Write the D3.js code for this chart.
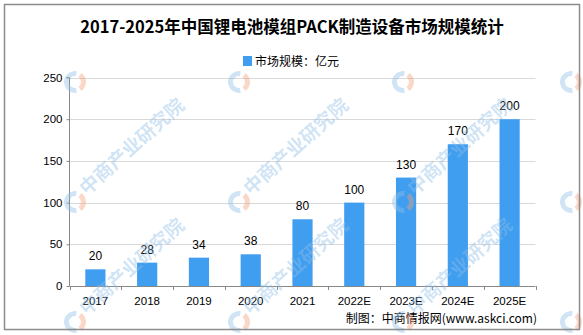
<!DOCTYPE html>
<html><head><meta charset="utf-8">
<script src="https://cdn.jsdelivr.net/npm/d3@7"></script>
<style>body{margin:0;background:#fff}svg{display:block}</style>
</head><body>
<script>
const categories = ["2017","2018","2019","2020","2021","2022E","2023E","2024E","2025E"];
const values = [20,28,34,38,80,100,130,170,200];
const yTicks = [0,50,100,150,200,250];
const title = "2017-2025年中国锂电池模组PACK制造设备市场规模统计";
const legendLabel = "市场规模：亿元";
const source = "制图：中商情报网(www.askci.com)";
const watermark = "中商产业研究院";

const W = 583, H = 335;
const svg = d3.select("body").append("svg").attr("width", W).attr("height", H);
svg.append("rect").attr("width", W).attr("height", H).attr("fill", "#fff");

const x = d3.scaleBand().domain(categories).range([69.5, 535.5]).padding(0);
const y = d3.scaleLinear().domain([0,250]).range([286, 77.5]);
const barW = x.bandwidth()*0.39;
const sans = "'Liberation Sans', Arial, sans-serif";

// grid
svg.append("g").selectAll("line").data(yTicks.filter(d=>d>0)).join("line")
  .attr("x1", 69.5).attr("x2", 535.5)
  .attr("y1", d=>Math.round(y(d))+0.5).attr("y2", d=>Math.round(y(d))+0.5)
  .attr("stroke","#d9d9d9");

// bars
svg.append("g").selectAll("rect").data(values).join("rect")
  .attr("x",(d,i)=>x(categories[i]) + (x.bandwidth()-barW)/2)
  .attr("width", barW)
  .attr("y", d=>y(d)).attr("height", d=>y(0)-y(d))
  .attr("fill","#409ef0");

// value labels
svg.append("g").selectAll("text").data(values).join("text")
  .attr("x",(d,i)=>x(categories[i]) + x.bandwidth()/2)
  .attr("y", d=>y(d)-9)
  .attr("text-anchor","middle").attr("font-family",sans).attr("font-size",12)
  .attr("fill","#000").text(d=>d);

// y axis
const yAxis = d3.axisLeft(y).tickValues(yTicks).tickSize(3).tickPadding(4);
const gy = svg.append("g").attr("transform","translate(69.5,0)").call(yAxis);
gy.select(".domain").attr("stroke","#888").attr("d","M-3,77.5H0V286");
gy.selectAll(".tick line").attr("stroke","#888");
gy.selectAll("text").attr("font-family",sans).attr("font-size",11.5).attr("fill","#000");

// x axis
const gx = svg.append("g").attr("transform","translate(0,286)");
gx.append("line").attr("x1",69.5).attr("x2",535.5).attr("y1",0.5).attr("y2",0.5).attr("stroke","#888");
const bounds = categories.map(c=>x(c)).concat([x(categories[categories.length-1])+x.bandwidth()]);
gx.selectAll("line.t").data(bounds).join("line").attr("class","t")
  .attr("x1",d=>Math.round(d)+0.5).attr("x2",d=>Math.round(d)+0.5).attr("y1",0).attr("y2",4).attr("stroke","#888");
gx.selectAll("text").data(categories).join("text")
  .attr("x",d=>x(d)+x.bandwidth()/2).attr("y",19)
  .attr("text-anchor","middle").attr("font-family",sans).attr("font-size",11.5).attr("fill","#000").text(d=>d);

// title
svg.append("text").attr("x",292).attr("y",33).attr("text-anchor","middle")
  .attr("font-family","'Noto Sans CJK SC', sans-serif").attr("font-weight","bold")
  .attr("font-size",16.5).attr("fill","#000").text(title);

// legend
svg.append("rect").attr("x",243).attr("y",56).attr("width",9).attr("height",10).attr("fill","#409ef0");
svg.append("text").attr("x",255).attr("y",66).attr("font-family","'Noto Sans CJK SC', sans-serif")
  .attr("font-size",12).attr("fill","#000").text(legendLabel);

// source
svg.append("text").attr("x",537).attr("y",323).attr("text-anchor","end")
  .attr("font-family","'Noto Sans CJK SC', sans-serif").attr("font-size",12).attr("fill","#000").text(source);

// watermarks (text only where it fits inside the picture)
const wmX = [75, 239, 403, 571], wmY = [82, 202, 322];
const wm = svg.append("g").attr("opacity",0.42);
const arcB = d3.arc().innerRadius(6).outerRadius(11).startAngle(Math.PI*0.95).endAngle(Math.PI*2.05);
const arcO = d3.arc().innerRadius(6).outerRadius(11).startAngle(Math.PI*0.2).endAngle(Math.PI*0.8);
wmY.forEach((yy,ri)=>wmX.forEach((xx,ci)=>{
  const g = wm.append("g").attr("transform",`translate(${xx},${yy})`);
  g.append("path").attr("d",arcB()).attr("fill","#8fbfe6");
  g.append("path").attr("d",arcO()).attr("fill","#f2a07a");
  if (ri > 0 && ci < 3) {
    g.append("text").attr("transform","translate(12,-6) rotate(-42)")
      .attr("font-family","'Noto Sans CJK SC', sans-serif").attr("font-weight","bold")
      .attr("font-size",19).attr("fill","#8fbfe6").text(watermark);
  }
}));

// frame
svg.append("rect").attr("x",4.5).attr("y",4.5).attr("width",575).attr("height",325)
  .attr("fill","none").attr("stroke","#8c8c8c").attr("stroke-width",1.5);
</script>
</body></html>
